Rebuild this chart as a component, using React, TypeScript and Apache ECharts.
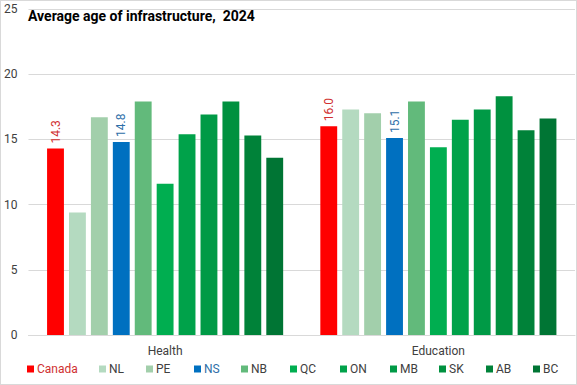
import React, { useEffect, useRef } from "react";
import * as echarts from "echarts";

const categories = ["Health", "Education"];
const regions = ["Canada", "NL", "PE", "NS", "NB", "QC", "ON", "MB", "SK", "AB", "BC"];
const health = [14.3, 9.4, 16.7, 14.8, 17.9, 11.6, 15.4, 16.9, 17.9, 15.3, 13.6];
const education = [16.0, 17.3, 17.0, 15.1, 17.9, 14.4, 16.5, 17.3, 18.3, 15.7, 16.6];
const yTicks = [0, 5, 10, 15, 20, 25];
const colors = ["#FF0000", "#B4DAC0", "#A2CFAB", "#0070C0", "#62BA7B", "#00AE50", "#00A24A", "#009A46", "#00913F", "#008239", "#007534"];
const labelColors: Record<string, string> = { Canada: "#D03030", NS: "#2E6FA8" };
const legendLefts = [26, 98, 145, 193, 240, 289, 339, 389, 438, 485, 532];

const BAR_GAP = 0.3;
const CAT_GAP = 0.136;

export default function App() {
  const ref = useRef<HTMLDivElement>(null);
  useEffect(() => {
    const chart = echarts.init(ref.current!, undefined, { renderer: "svg" });
    const font = "Roboto, sans-serif";
    const n = regions.length;
    const barSeries = regions.map((r, i) => ({
      name: r,
      type: "bar",
      data: [health[i], education[i]],
      itemStyle: { color: colors[i] },
      barGap: `${BAR_GAP * 100}%`,
      barCategoryGap: `${CAT_GAP * 100}%`,
    }));
    const labelSeries = regions
      .map((r, i) => ({ r, i }))
      .filter(({ r }) => labelColors[r])
      .map(({ r, i }) => ({
        type: "custom",
        name: r + " label",
        silent: true,
        z: 10,
        data: [
          [0, health[i]],
          [1, education[i]],
        ],
        renderItem: (params: any, api: any) => {
          const pt = api.coord([api.value(0), api.value(1)]);
          const band = api.size([1, 0])[0];
          const span = band * (1 - CAT_GAP);
          const unit = span / (n + (n - 1) * BAR_GAP);
          const step = unit * (1 + BAR_GAP);
          const x = pt[0] + (i - (n - 1) / 2) * step;
          return {
            type: "group",
            x,
            y: pt[1] - 5,
            rotation: Math.PI / 2,
            children: [
              {
                type: "text",
                x: 0,
                y: 0,
                style: {
                  text: api.value(1).toFixed(1),
                  fill: labelColors[r],
                  font: `12px ${font}`,
                  align: "left",
                  verticalAlign: "middle",
                },
              },
            ],
          };
        },
      }));
    chart.setOption({
      animation: false,
      backgroundColor: "#fff",
      title: {
        text: "Average age of infrastructure,  2024",
        left: 22,
        top: 3,
        textStyle: { fontSize: 14, fontWeight: "bold", color: "#000", fontFamily: font },
      },
      grid: { left: 26, right: 1, top: 8, bottom: 49, containLabel: false },
      legend: regions.map((r, i) => ({
        left: legendLefts[i],
        top: 362,
        padding: 0,
        icon: "rect",
        itemWidth: 7,
        itemHeight: 7,
        data: [r],
        textStyle: {
          fontSize: 12,
          fontFamily: font,
          color: labelColors[r] || "#404040",
          padding: [0, 0, 0, -2],
        },
      })),
      xAxis: {
        type: "category",
        data: categories,
        axisTick: { show: false },
        axisLine: { lineStyle: { color: "#D9D9D9" } },
        axisLabel: { color: "#404040", fontSize: 12, margin: 10, fontFamily: font },
      },
      yAxis: {
        type: "value",
        min: 0,
        max: 25,
        interval: 5,
        axisLabel: { color: "#404040", fontSize: 12, margin: 11, fontFamily: font },
        splitLine: { lineStyle: { color: "#D9D9D9" } },
        axisLine: { show: false },
      },
      series: [...barSeries, ...labelSeries],
    });
    return () => chart.dispose();
  }, []);
  return (
    <div
      ref={ref}
      style={{ position: "fixed", left: 0, top: 0, width: 577, height: 385, boxSizing: "border-box", border: "1px solid #D9D9D9" }}
    />
  );
}
